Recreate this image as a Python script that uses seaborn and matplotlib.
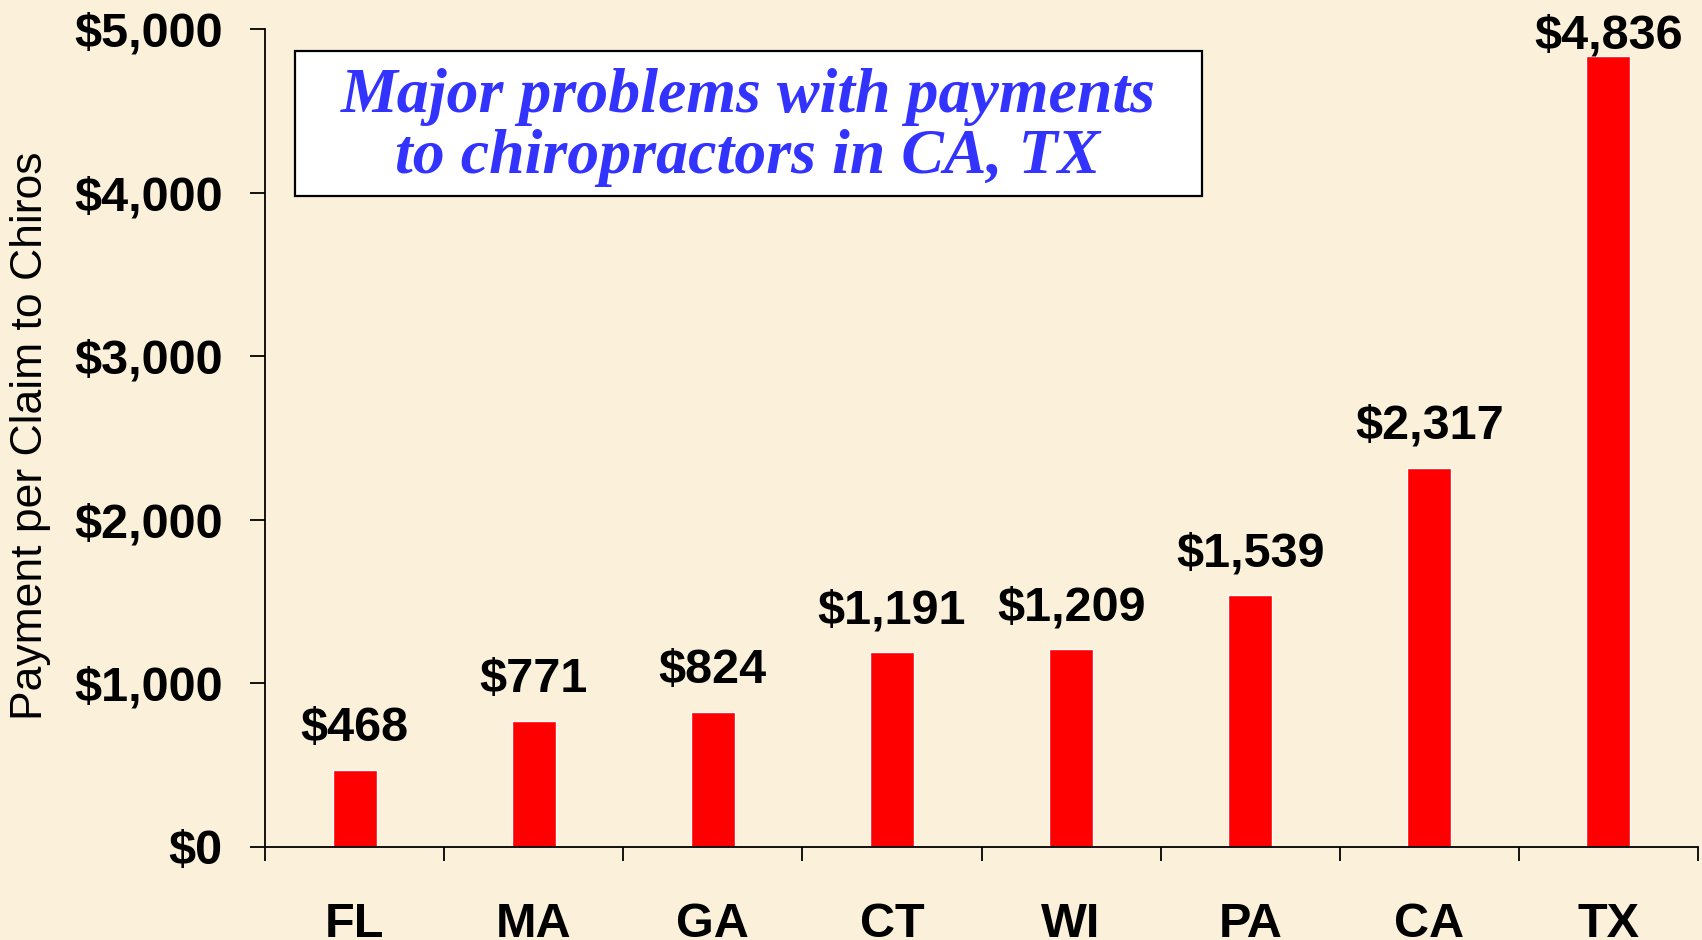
import matplotlib
matplotlib.use("Agg")
import matplotlib.pyplot as plt
from matplotlib.patches import Rectangle
import numpy as np
import pandas as pd
import seaborn as sns

# Chart data
states = ["FL", "MA", "GA", "CT", "WI", "PA", "CA", "TX"]
payments = [468, 771, 824, 1191, 1209, 1539, 2317, 4836]
y_ticks = [0, 1000, 2000, 3000, 4000, 5000]
y_tick_labels = ["$0", "$1,000", "$2,000", "$3,000", "$4,000", "$5,000"]
title_lines = ["Major problems with payments", "to chiropractors in CA, TX"]
y_label = "Payment per Claim to Chiros"

BG = "#FBF1DA"
BAR = "#FF0000"
TITLE_BLUE = "#3333FF"
W, H = 1702, 940

sns.set_theme(style="white")
plt.rcParams["font.family"] = ["Liberation Sans", "DejaVu Sans"]
plt.rcParams.update({
    "text.color": "black",
    "axes.labelcolor": "black",
    "xtick.color": "black",
    "ytick.color": "black",
})

fig = plt.figure(figsize=(W / 100, H / 100), dpi=100)
fig.patch.set_facecolor(BG)

# Plot area in pixel terms: left 265, right 1698, top 29, bottom 847
ax = fig.add_axes([265 / W, (H - 847) / H, (1698 - 265) / W, (847 - 29) / H])
ax.set_facecolor("none")

df = pd.DataFrame({"state": states, "payment": payments})
sns.barplot(data=df, x="state", y="payment", color=BAR, saturation=1,
            width=0.246, ax=ax, errorbar=None)

ax.set_xlim(-0.5, len(states) - 0.5)
ax.set_ylim(0, 5000)
ax.set_xlabel("")
ax.set_ylabel("")

for side in ("top", "right"):
    ax.spines[side].set_visible(False)
for side in ("left", "bottom"):
    ax.spines[side].set_color("black")
    ax.spines[side].set_linewidth(1.3)

# Category boundaries carry tick marks, category centres carry labels
ax.set_xticks(np.arange(-0.5, len(states), 1.0))
ax.set_xticklabels([])
ax.set_xticks(np.arange(len(states)), minor=True)
ax.set_xticklabels(states, minor=True, fontsize=35, fontweight="bold",
                   color="black")
ax.tick_params(axis="x", which="major", direction="out", length=10,
               width=1.3, color="black", bottom=True)
ax.tick_params(axis="x", which="minor", length=0, pad=39.5, bottom=True,
               labelcolor="black")

ax.set_yticks(y_ticks)
ax.set_yticklabels(y_tick_labels, fontsize=35, fontweight="bold",
                   color="black")
ax.tick_params(axis="y", direction="out", length=10.8, width=1.3,
               color="black", labelcolor="black", pad=19.5, left=True)
ax.grid(False)

# Value labels above bars, kept inside the top of the figure
for i, v in enumerate(payments):
    top_px = ax.transData.transform((i, v))[1]
    gap_px = min(29, (H - 49) - top_px)
    ax.annotate(f"${v:,}", xy=(i, v), xytext=(0, gap_px * 72 / 100),
                textcoords="offset points", ha="center", va="baseline",
                fontsize=35, fontweight="bold", color="black",
                annotation_clip=False)

fig.text(31 / W, 1 - 436 / H, y_label, rotation=90, fontsize=32,
         ha="center", va="center", color="black")

# Boxed title
fig.add_artist(Rectangle((295 / W, 1 - 196 / H), (1202 - 295) / W,
                         (196 - 51) / H, transform=fig.transFigure,
                         facecolor="white", edgecolor="black",
                         linewidth=1.6))
for line, base in zip(title_lines, (112, 173)):
    fig.text(748 / W, 1 - base / H, line, ha="center", va="baseline",
             fontsize=46, fontweight="bold", fontstyle="italic",
             color=TITLE_BLUE, family=["Liberation Serif", "DejaVu Serif"])

fig.savefig("out.png", dpi=100, facecolor=BG)
